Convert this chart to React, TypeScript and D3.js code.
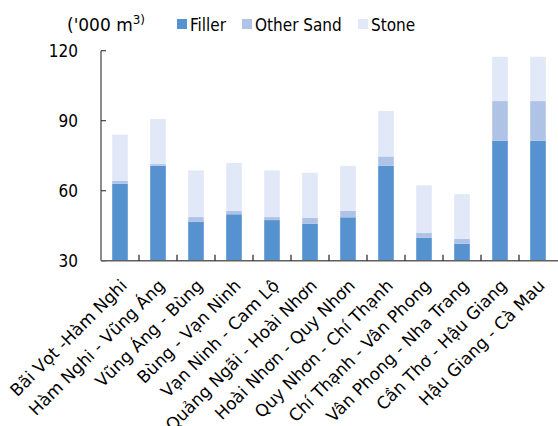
import React from "react";
import * as d3 from "d3";

const categories = [
  "Bãi Vọt -Hàm Nghi",
  "Hàm Nghi - Vũng Áng",
  "Vũng Áng - Bùng",
  "Bùng - Vạn Ninh",
  "Vạn Ninh - Cam Lộ",
  "Quảng Ngãi - Hoài Nhơn",
  "Hoài Nhơn - Quy Nhơn",
  "Quy Nhơn - Chí Thạnh",
  "Chí Thạnh - Vân Phong",
  "Vân Phong - Nha Trang",
  "Cần Thơ - Hậu Giang",
  "Hậu Giang - Cà Mau",
];
const filler = [63, 70.7, 46.7, 49.9, 47.4, 45.9, 48.6, 70.7, 39.9, 37.3, 81.4, 81.4];
const otherSand = [1.2, 0.7, 2.0, 1.5, 1.3, 2.5, 2.8, 4.0, 2.1, 2.0, 17.0, 17.0];
const stone = [19.8, 19.3, 20.0, 20.5, 20.0, 19.3, 19.2, 19.5, 20.3, 19.2, 19.0, 19.0];
const yTicks = [30, 60, 90, 120];
const seriesNames = ["Filler", "Other Sand", "Stone"];
const colors = ["#5592cf", "#aec3e6", "#e1e8f7"];

const FONT = "'DejaVu Sans Condensed', 'DejaVu Sans', sans-serif";
const FONT_WIDE = "'DejaVu Sans', sans-serif";

export default function App() {
  const W = 558, H = 426;
  const left = 101, right = 557, top = 50.7, bottom = 260.7;
  const x = d3.scaleBand<string>().domain(categories).range([left, right]).paddingInner(0).paddingOuter(0);
  const y = d3.scaleLinear().domain([30, 120]).range([bottom, top]).clamp(true);
  const barW = 15.6;

  const rows = categories.map((c, i) => ({ c, Filler: filler[i], "Other Sand": otherSand[i], Stone: stone[i] }));
  const stack = d3.stack<any>().keys(seriesNames)(rows);

  return (
    <svg width={W} height={H} style={{ position: "absolute", left: 0, top: 0 }} fontFamily={FONT}>
      {/* unit label */}
      <text x={67} y={31} fontSize={17} fill="#000" fontFamily={FONT_WIDE}>
        ('000 m<tspan dy={-7} fontSize={12}>3)</tspan>
      </text>
      {/* legend */}
      {seriesNames.map((s, i) => {
        const lx = [177, 242, 358][i];
        return (
          <g key={s}>
            <rect x={lx} y={19} width={10} height={10} fill={colors[i]} />
            <text x={lx + 13} y={31} fontSize={17} fill="#000">{s}</text>
          </g>
        );
      })}
      {/* bars */}
      {stack.map((layer, si) =>
        layer.map((d, i) => {
          const cx = (x(categories[i]) as number) + x.bandwidth() / 2;
          return (
            <rect
              key={si + "-" + i}
              x={cx - barW / 2}
              y={y(d[1])}
              width={barW}
              height={y(d[0]) - y(d[1])}
              fill={colors[si]}
            />
          );
        })
      )}
      {/* y axis */}
      <line x1={left} x2={left} y1={top} y2={bottom} stroke="#404040" strokeWidth={1.2} />
      {yTicks.map((t) => (
        <g key={t}>
          <line x1={left} x2={left + 5} y1={y(t)} y2={y(t)} stroke="#404040" strokeWidth={1.2} />
          <text x={78} y={y(t)} dy="0.35em" textAnchor="end" fontSize={17} fill="#000">{t}</text>
        </g>
      ))}
      {/* x axis */}
      <line x1={left} x2={right + 1} y1={bottom} y2={bottom} stroke="#606060" strokeWidth={1.4} />
      {categories.slice(1).map((c) => (
        <line key={c} x1={x(c) as number} x2={x(c) as number} y1={bottom} y2={bottom - 6} stroke="#202020" strokeWidth={1.2} />
      ))}
      {categories.map((c) => {
        const cx = (x(c) as number) + x.bandwidth() / 2;
        return (
          <text
            key={c}
            transform={`translate(${cx + 8},${bottom + 26}) rotate(-45)`}
            textAnchor="end"
            fontSize={17}
            fontFamily={FONT_WIDE}
            fill="#000"
          >
            {c}
          </text>
        );
      })}
    </svg>
  );
}
